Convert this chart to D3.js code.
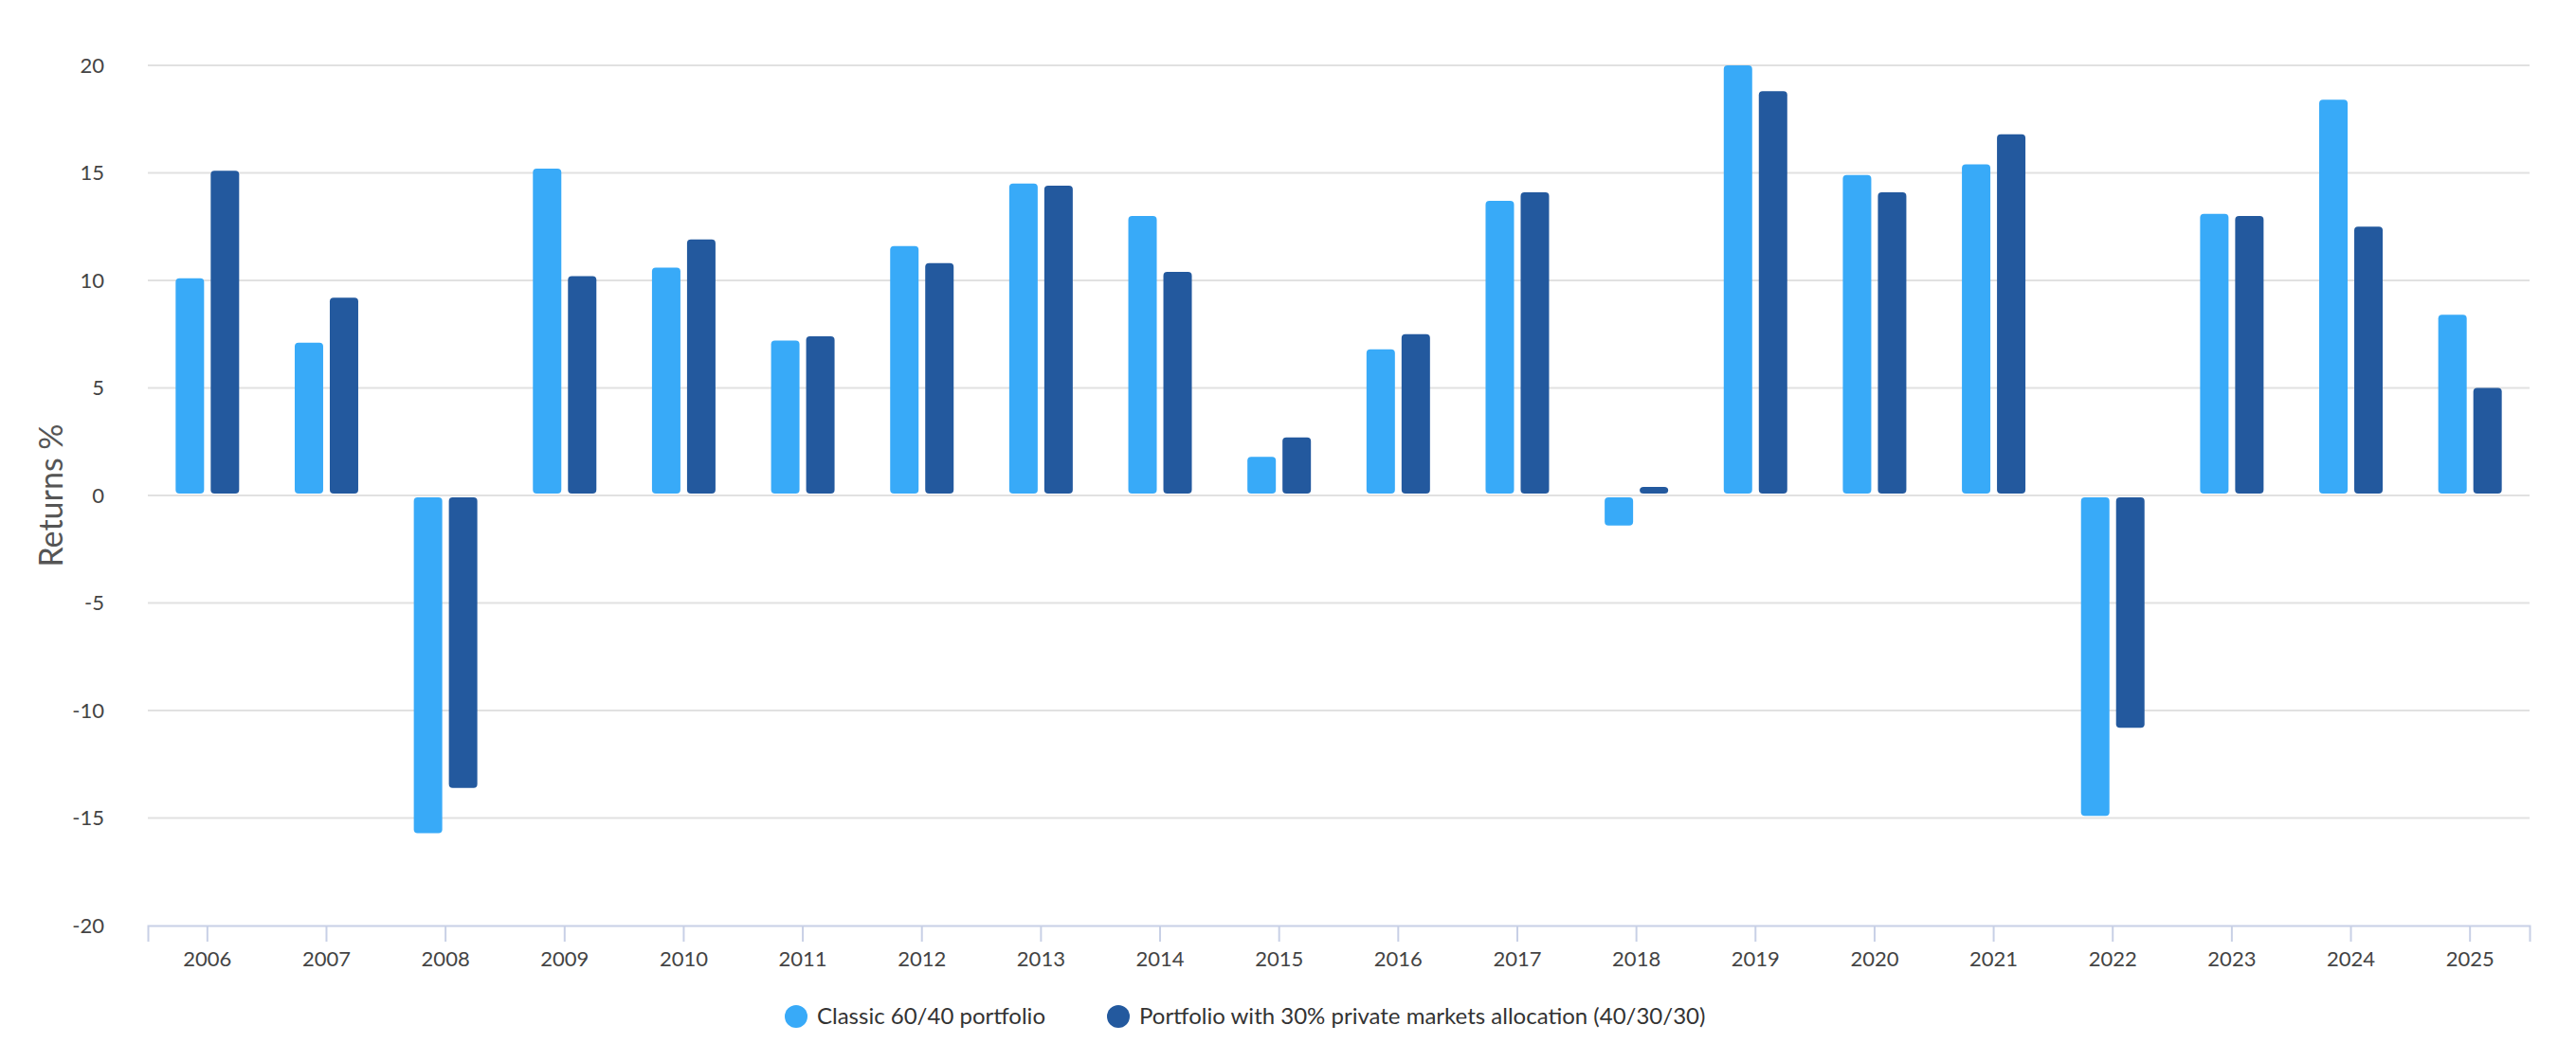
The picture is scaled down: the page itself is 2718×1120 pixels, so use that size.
<!DOCTYPE html>
<html><head><meta charset="utf-8">
<script src="https://cdn.jsdelivr.net/npm/d3@7"></script>
<style>body{margin:0;background:#fff}svg{display:block;font-family:Lato,"Open Sans",sans-serif}</style>
</head><body><svg id="c" width="2718" height="1120"></svg>
<script>
const years = ["2006","2007","2008","2009","2010","2011","2012","2013","2014","2015","2016","2017","2018","2019","2020","2021","2022","2023","2024","2025"];
const classic = [10.1,7.1,-15.7,15.2,10.6,7.2,11.6,14.5,13.0,1.8,6.8,13.7,-1.4,20.0,14.9,15.4,-14.9,13.1,18.4,8.4];
const privateMkts = [15.1,9.2,-13.6,10.2,11.9,7.4,10.8,14.4,10.4,2.7,7.5,14.1,0.4,18.8,14.1,16.8,-10.8,13.0,12.5,5.0];
const seriesNames = ["Classic 60/40 portfolio","Portfolio with 30% private markets allocation (40/30/30)"];
const colors = ["#38aaf8","#23599e"];
const yTicks = [-20,-15,-10,-5,0,5,10,15,20];

const svg = d3.select("#c");
const L=156,R=2669,T=69,B=977;
const x = d3.scaleBand().domain(years).range([L,R]).paddingInner(0).paddingOuter(0);
const y = d3.scaleLinear().domain([-20,20]).range([B,T]);
const bw = 30, gap = 7;

svg.append("g").selectAll("line").data(yTicks.filter(d=>d>-20)).join("line")
 .attr("x1",L).attr("x2",R).attr("y1",d=>y(d)).attr("y2",d=>y(d))
 .attr("stroke","#e1e1e1").attr("stroke-width",2);
svg.append("g").selectAll("text").data(yTicks).join("text")
 .attr("x",110).attr("y",d=>y(d)).attr("dy","0.35em").attr("text-anchor","end")
 .attr("font-size",22).attr("fill","#444").text(d=>d);
svg.append("text").attr("transform",`translate(66,${(T+B)/2}) rotate(-90)`)
 .attr("text-anchor","middle").attr("font-size",34).attr("fill","#555").text("Returns %");

const xa = svg.append("g").attr("transform",`translate(0,${B})`)
 .call(d3.axisBottom(x).tickSize(17).tickPadding(10));
xa.select(".domain").attr("stroke","#c8d0e6").attr("stroke-width",2);
xa.selectAll(".tick line").attr("stroke","#c8d0e6").attr("stroke-width",2);
xa.selectAll("text").attr("font-size",22).attr("fill","#444").attr("font-family","Lato,'Open Sans',sans-serif");

[classic, privateMkts].forEach((vals,si)=>{
  svg.append("g").selectAll("rect").data(years).join("rect")
   .attr("x",(d)=>x(d)+x.bandwidth()/2 + (si===0 ? -gap/2-bw : gap/2))
   .attr("width",bw)
   .attr("y",(d,i)=>vals[i]>=0? y(vals[i]) : y(0)+2)
   .attr("height",(d,i)=>Math.max(1,Math.abs(y(vals[i])-y(0))-2))
   .attr("rx",4).attr("fill",colors[si]);
});

const lg = svg.append("g").attr("transform","translate(0,1073)");
const items = [{x:840},{x:1180}];
seriesNames.forEach((n,i)=>{
  lg.append("circle").attr("cx",items[i].x).attr("cy",0).attr("r",12).attr("fill",colors[i]);
  lg.append("text").attr("x",items[i].x+22).attr("y",0).attr("dy","0.35em")
   .attr("font-size",24).attr("fill","#333").text(n);
});
</script></body></html>
